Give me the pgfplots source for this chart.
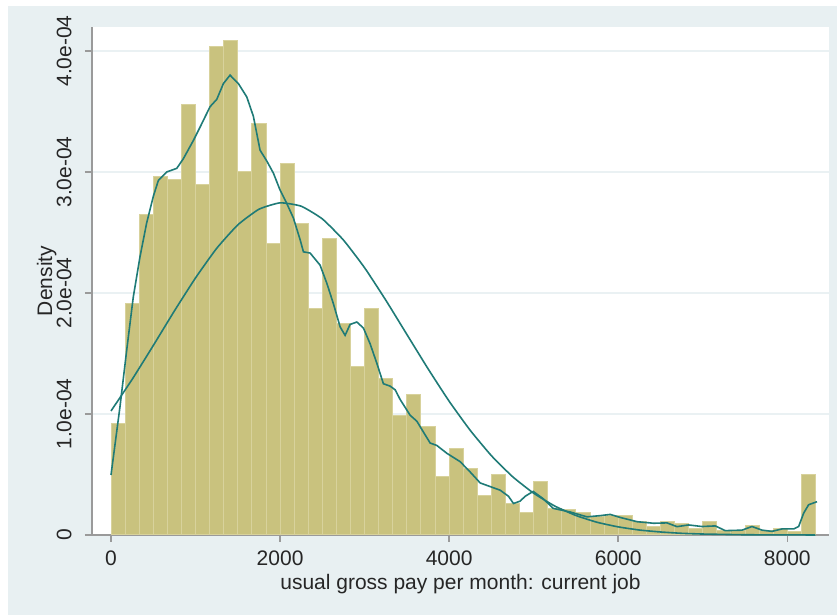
\documentclass[border=0pt]{standalone}
\usepackage{fontspec}
\setmainfont{Liberation Sans}
\usepackage{pgfplots}
\pgfplotsset{compat=1.18}
\definecolor{bgblue}{HTML}{E8F0F2}
\definecolor{gridc}{HTML}{EAF1F3}
\definecolor{barfill}{HTML}{C9C27E}
\definecolor{baredge}{HTML}{D8D29C}
\definecolor{tealc}{HTML}{1F7B77}
\definecolor{axgray}{HTML}{9A9A9A}
\begin{document}
\begin{tikzpicture}[x=1pt,y=1pt]
\fill[white] (-46,-40) rectangle (372.5,267.5);
\fill[bgblue] (-42,-40) rectangle (372.5,264.5);
\begin{axis}[
  at={(0,0)}, anchor=south west,
  scale only axis, width=368.5pt, height=254pt,
  xmin=-225, xmax=8493, ymin=0, ymax=4.198,
  axis background/.style={fill=white},
  axis x line*=bottom, axis y line*=left,
  axis line style={axgray, line width=0.75pt},
  tick align=outside, major tick length=3.5pt,
  tick style={axgray, line width=0.75pt},
  scaled x ticks=false, scaled y ticks=false,
  /pgf/number format/assume math mode=true,
  xtick={0,2000,4000,6000,8000}, xticklabels={0,2000,4000,6000,8000},
  ytick={0,1,2,3,4}, yticklabels={0,1.0e-04,2.0e-04,3.0e-04,4.0e-04},
  ymajorgrids, major grid style={gridc, line width=1pt},
  ticklabel style={font=\fontsize{10.5}{12}\selectfont, text=black!85},
  xticklabel style={anchor=north, inner sep=0pt, yshift=-4pt},
  yticklabel style={rotate=90, anchor=south, inner sep=0pt, yshift=6.5pt},
  label style={font=\fontsize{10.5}{12}\selectfont, text=black!85},
  xlabel={usual gross pay per month: current job},
  ylabel={Density},
  xlabel style={at={(axis description cs:0.5,0)}, anchor=base, inner sep=0pt, yshift=-27.3pt},
  ylabel style={at={(axis description cs:0,0.5)}, anchor=south, inner sep=0pt, yshift=17.5pt},
  clip=false,
]
\addplot[ybar interval, fill=barfill, draw=baredge, line width=0.5pt] coordinates {
(0,0.923) (166.67,1.915) (333.33,2.650) (500,2.962) (666.67,2.940)
(833.33,3.554) (1000,2.898) (1166.67,4.036) (1333.33,4.085) (1500,3.003)
(1666.67,3.402) (1833.33,2.410) (2000,3.066) (2166.67,2.576) (2333.33,1.873)
(2500,2.452) (2666.67,1.750) (2833.33,1.391) (3000,1.873) (3166.67,1.295)
(3333.33,0.986) (3500,1.163) (3666.67,0.895) (3833.33,0.482) (4000,0.716)
(4166.67,0.551) (4333.33,0.325) (4500,0.496) (4666.67,0.262) (4833.33,0.184)
(5000,0.446) (5166.67,0.220) (5333.33,0.207) (5500,0.184) (5666.67,0.151)
(5833.33,0.165) (6000,0.165) (6166.67,0.110) (6333.33,0.074) (6500,0.110)
(6666.67,0.091) (6833.33,0.055) (7000,0.110) (7166.67,0.041) (7333.33,0.041)
(7500,0.077) (7666.67,0.041) (7833.33,0.055) (8000,0.027) (8166.67,0.504)
(8333.33,0.504)
};
\addplot[tealc, line width=0.8pt, smooth, tension=0.3] coordinates {
(0,1.025) (250,1.286) (500,1.566) (750,1.852) (1000,2.125) (1250,2.369)
(1500,2.563) (1750,2.692) (2000,2.745) (2250,2.717) (2500,2.612) (2750,2.437)
(3000,2.208) (3250,1.941) (3500,1.657) (3750,1.374) (4000,1.105) (4250,0.864)
(4500,0.655) (4750,0.482) (5000,0.345) (5250,0.239) (5500,0.161) (5750,0.105)
(6000,0.067) (6250,0.041) (6500,0.025) (6750,0.014) (7000,0.008) (7500,0.002)
(8000,0.001) (8333,0.000)
};
\addplot[tealc, line width=0.8pt] coordinates {
(0,0.496) (106,1.06) (186,1.53) (264,1.97) (343,2.30) (422,2.58) (501,2.80)
(560,2.93) (659,3.00) (778,3.03) (856,3.11) (974,3.26) (1053,3.37) (1172,3.54)
(1251,3.60) (1329,3.73) (1408,3.80) (1507,3.73) (1606,3.62) (1684,3.46)
(1763,3.18) (1843,3.09) (1921,2.99) (2000,2.85) (2079,2.74) (2157,2.62)
(2237,2.44) (2276,2.34) (2355,2.33) (2473,2.23) (2553,2.08) (2631,1.91)
(2710,1.72) (2769,1.65) (2828,1.74) (2908,1.76) (2986,1.71) (3065,1.58)
(3144,1.42) (3222,1.25) (3302,1.23) (3361,1.20) (3420,1.12) (3538,0.99)
(3618,0.94) (3696,0.85) (3775,0.76) (3854,0.74) (3973,0.675) (4130,0.606)
(4249,0.52) (4367,0.43) (4485,0.40) (4604,0.37) (4702,0.32) (4761,0.26)
(4840,0.28) (4899,0.32) (4994,0.36) (5112,0.30) (5231,0.22) (5432,0.19)
(5630,0.15) (5787,0.16) (5905,0.17) (6024,0.145) (6221,0.11) (6418,0.097)
(6576,0.10) (6695,0.069) (6832,0.083) (6990,0.07) (7148,0.075) (7266,0.036)
(7464,0.04) (7582,0.07) (7701,0.04) (7819,0.03) (7937,0.05) (8075,0.05)
(8134,0.07) (8193,0.18) (8252,0.25) (8351,0.275)
};
\end{axis}
\pgfresetboundingbox
\path (-46,-40) rectangle (372.5,267.5);
\end{tikzpicture}
\end{document}
